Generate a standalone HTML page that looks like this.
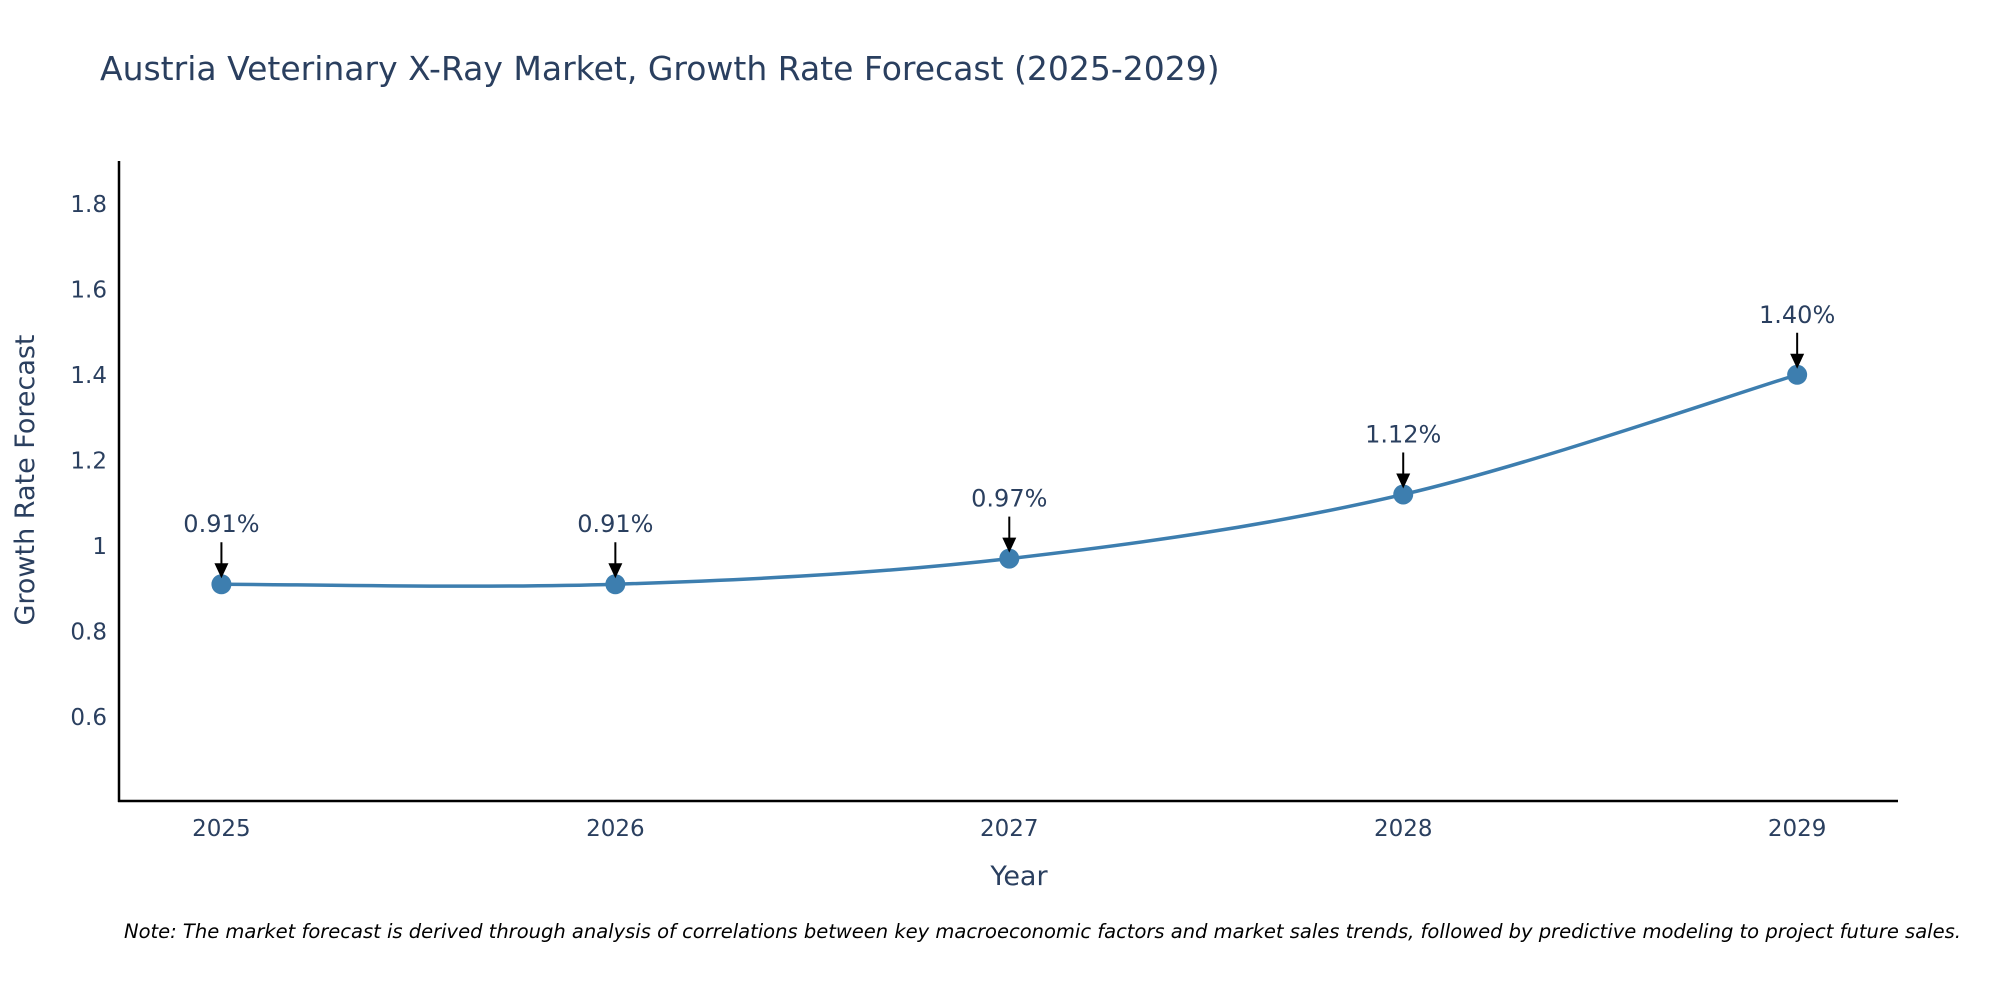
<!DOCTYPE html>
<html><head><meta charset="utf-8"><style>
body{margin:0;background:#fff}
svg{font-family:"DejaVu Sans","Liberation Sans",sans-serif}
</style></head><body>
<svg id="chart" width="2000" height="1000" viewBox="0 0 2000 1000" xmlns="http://www.w3.org/2000/svg">
<rect width="2000" height="1000" fill="#fff"/>
<text x="100" y="80" font-size="33" fill="#2a3f5f">Austria Veterinary X-Ray Market, Growth Rate Forecast (2025-2029)</text>
<g id="yticks"></g>
<g id="xticks"></g>
<line x1="119" y1="161" x2="119" y2="802" stroke="#000" stroke-width="2.5"/>
<line x1="118" y1="801" x2="1898" y2="801" stroke="#000" stroke-width="2.5"/>
<path id="line" fill="none" stroke="#3d7eaf" stroke-width="3.5"/>
<g id="marks"></g>
<g id="annots"></g>
<text transform="translate(34,480) rotate(-90)" text-anchor="middle" font-size="27" fill="#2a3f5f">Growth Rate Forecast</text>
<text x="1019" y="885" text-anchor="middle" font-size="27" fill="#2a3f5f">Year</text>
<text x="124" y="938" font-size="19.5" font-style="italic" fill="#000">Note: The market forecast is derived through analysis of correlations between key macroeconomic factors and market sales trends, followed by predictive modeling to project future sales.</text>
</svg>
<script>
const years=[2025,2026,2027,2028,2029];
const values=[0.91,0.91,0.97,1.12,1.40];
const labels=["0.91%","0.91%","0.97%","1.12%","1.40%"];
const yTicks=[0.6,0.8,1,1.2,1.4,1.6,1.8];
const NS="http://www.w3.org/2000/svg";
const X0=119,X1=1898,Y0=801,Y1=161,xmin=2024.74,xmax=2029.256,ymin=0.403,ymax=1.9;
const sx=v=>X0+(v-xmin)/(xmax-xmin)*(X1-X0);
const sy=v=>Y0-(v-ymin)/(ymax-ymin)*(Y0-Y1);
function mk(t,a,p){const e=document.createElementNS(NS,t);for(const k in a)e.setAttribute(k,a[k]);p.appendChild(e);return e;}
const yt=document.getElementById('yticks');
yTicks.forEach(v=>{const t=mk('text',{x:107,y:sy(v)+8,'text-anchor':'end','font-size':23,fill:'#2a3f5f'},yt);


t.textContent=String(v);});
const xt=document.getElementById('xticks');
years.forEach(v=>{const t=mk('text',{x:sx(v),y:836,'text-anchor':'middle','font-size':23,fill:'#2a3f5f'},xt);


t.textContent=String(v);});
const P=years.map((y,i)=>[sx(y),sy(values[i])]);
let d=`M${P[0][0]},${P[0][1]}`;
for(let i=0;i<P.length-1;i++){const p0=P[Math.max(0,i-1)],p1=P[i],p2=P[i+1],p3=P[Math.min(P.length-1,i+2)];
const c1=[p1[0]+(p2[0]-p0[0])/6,p1[1]+(p2[1]-p0[1])/6],c2=[p2[0]-(p3[0]-p1[0])/6,p2[1]-(p3[1]-p1[1])/6];
d+=` C${c1[0]},${c1[1]} ${c2[0]},${c2[1]} ${p2[0]},${p2[1]}`;}
document.getElementById('line').setAttribute('d',d);
const mg=document.getElementById('marks'),ag=document.getElementById('annots');
P.forEach((p,i)=>{const c=mk('circle',{cx:p[0],cy:p[1],r:10,fill:'#3d7eaf'},mg);


const l=mk('line',{x1:p[0],y1:p[1]-42,x2:p[0],y2:p[1]-18,stroke:'#000','stroke-width':2},ag);


const h=mk('polygon',{points:`${p[0]-7},${p[1]-21} ${p[0]+7},${p[1]-21} ${p[0]},${p[1]-6}`,fill:'#000'},ag);


const t=mk('text',{x:p[0],y:p[1]-52,'text-anchor':'middle','font-size':24,fill:'#2a3f5f'},ag);


t.textContent=labels[i];});
</script>
</body></html>
